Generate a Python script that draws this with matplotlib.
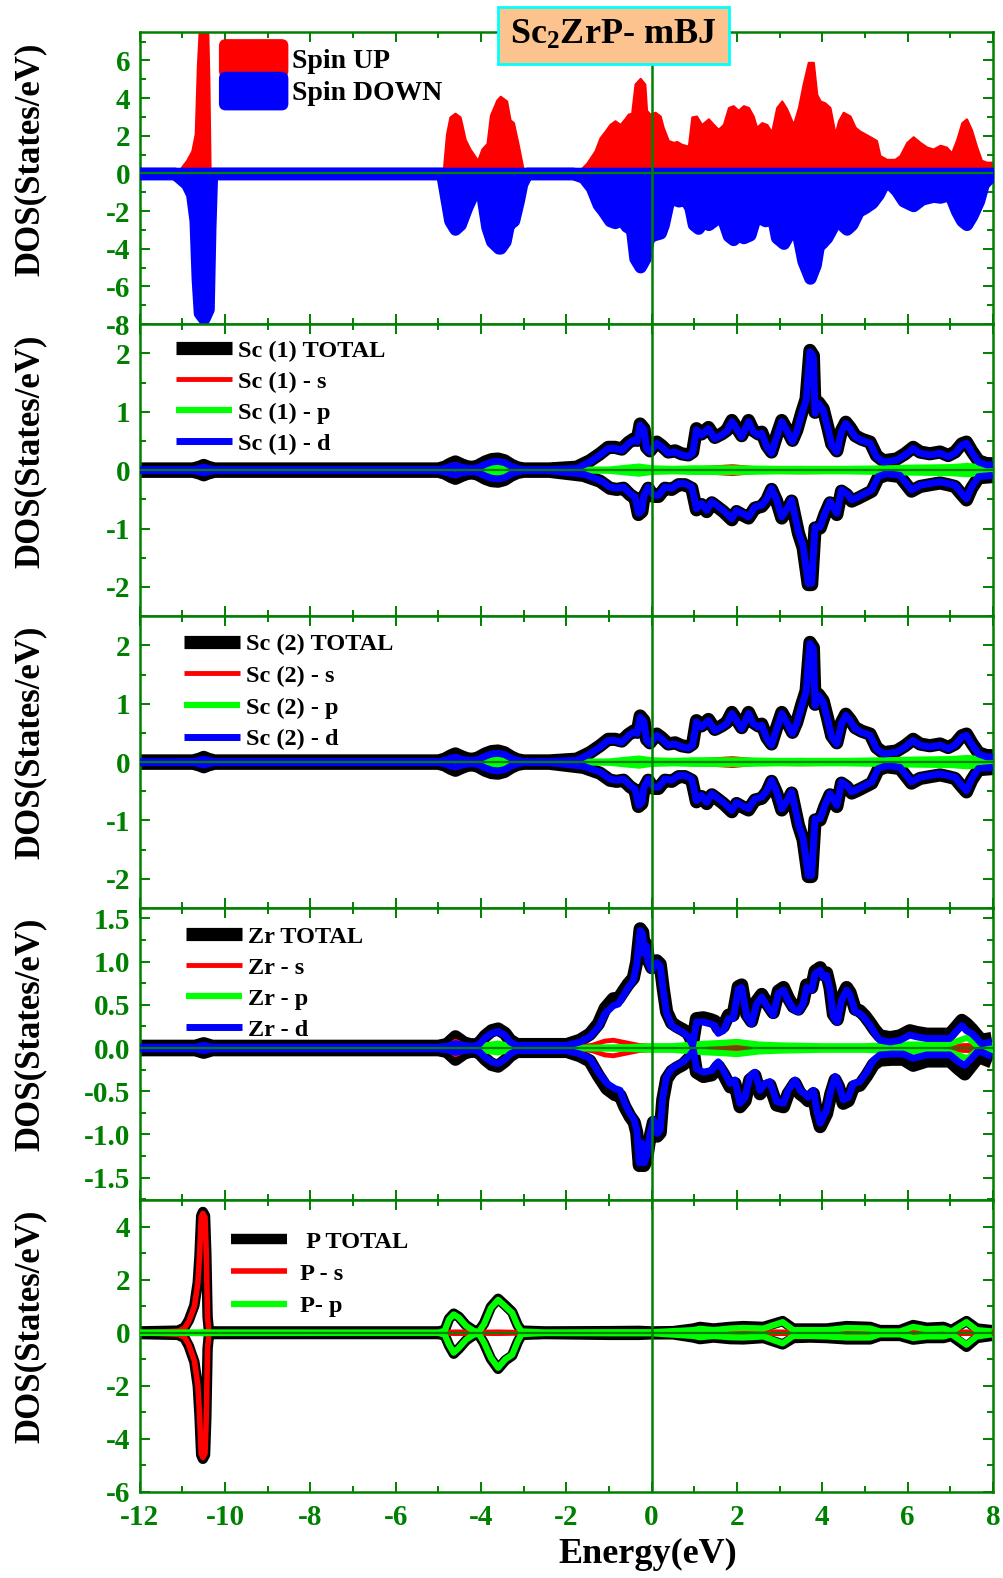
import matplotlib
matplotlib.use("Agg")
import matplotlib.pyplot as plt
from matplotlib.patches import Patch, FancyBboxPatch
from matplotlib.legend_handler import HandlerPatch
from matplotlib.ticker import MultipleLocator

plt.rcParams.update({
    'font.family': ['Liberation Serif', 'DejaVu Serif'],
    'font.weight': 'bold',
    'mathtext.fontset': 'custom',
    'mathtext.rm': 'Liberation Serif:bold',
    'mathtext.it': 'Liberation Serif:bold',
    'mathtext.bf': 'Liberation Serif:bold',
    'axes.unicode_minus': False,
})

# ---------------- total DOS (spin up / spin down) ----------------
tot_up_e = [-12.0, -11.2, -11.1, -10.9, -10.78, -10.70, -10.65, -10.62, -10.58, -10.42, -10.38, -10.35,
            -10.30, -4.95, -4.88, -4.81, -4.73, -4.61, -4.49, -4.37, -4.26, -4.14, -4.08, -3.98, -3.86,
            -3.78, -3.63, -3.55, -3.40, -3.32, -3.24, -3.13, -3.02, -2.98, -1.76, -1.52, -1.33, -1.21,
            -1.09, -0.98, -0.86, -0.74, -0.63, -0.55, -0.47, -0.39, -0.27, -0.16, -0.12, -0.04, 0.08,
            0.20, 0.27, 0.39, 0.51, 0.59, 0.70, 0.86, 0.94, 1.05, 1.17, 1.33, 1.45, 1.56, 1.68, 1.80,
            1.91, 2.03, 2.15, 2.27, 2.38, 2.46, 2.58, 2.70, 2.81, 2.93, 3.05, 3.16, 3.32, 3.44, 3.55,
            3.67, 3.79, 3.87, 3.95, 4.06, 4.18, 4.30, 4.38, 4.49, 4.65, 4.77, 4.88, 5.00, 5.16, 5.27,
            5.35, 5.51, 5.70, 5.82, 5.98, 6.13, 6.29, 6.45, 6.60, 6.76, 6.91, 7.03, 7.15, 7.27, 7.38,
            7.50, 7.62, 7.73, 7.85, 8.00]
tot_up = [0.0, 0.0, 0.1, 0.7, 1.2, 2.1, 5.7, 7.0, 9.0, 9.0, 5.0, 0.0,
          0.0, 0.0, 0.3, 2.1, 3.0, 3.2, 3.0, 1.8, 1.3, 0.9, 0.7, 1.3, 1.6,
          3.1, 3.9, 4.1, 3.85, 2.85, 2.7, 1.55, 0.3, 0.0, 0.0, 0.55, 1.2, 1.9,
          2.25, 2.6, 2.8, 2.6, 2.9, 3.15, 3.2, 4.75, 5.05, 4.75, 3.35, 3.15, 3.25,
          3.05, 2.45, 1.75, 1.65, 1.7, 1.55, 1.45, 3.0, 3.05, 2.6, 2.9, 2.6, 2.35, 2.6, 3.5,
          3.6, 3.35, 3.6, 3.5, 3.05, 2.45, 2.7, 2.6, 2.2, 3.5, 3.85, 3.45, 2.6, 3.5, 4.75,
          5.9, 5.9, 4.2, 3.85, 3.75, 3.5, 2.1, 2.8, 3.25, 3.05, 2.45, 2.25, 2.1, 1.9, 1.75,
          0.95, 0.75, 0.75, 0.95, 1.65, 1.95, 1.65, 1.4, 1.3, 1.5, 1.4, 1.1, 1.8, 2.7, 2.9,
          2.3, 1.4, 0.7, 0.6, 0.6]

tot_dn_e = [-12.0, -11.18, -10.90, -10.78, -10.70, -10.65, -10.60, -10.50, -10.40, -10.36, -10.32,
            -4.92, -4.81, -4.73, -4.61, -4.49, -4.34, -4.18, -4.08, -3.98, -3.86, -3.75, -3.59, -3.55,
            -3.44, -3.36, -3.24, -3.13, -3.05, -2.93, -1.84, -1.60, -1.41, -1.25, -1.13, -0.98, -0.86,
            -0.74, -0.59, -0.47, -0.39, -0.27, -0.16, -0.08, 0.04, 0.20, 0.27, 0.39, 0.51, 0.63, 0.78,
            0.90, 0.98, 1.09, 1.21, 1.33, 1.45, 1.56, 1.68, 1.80, 1.91, 2.03, 2.15, 2.30, 2.42, 2.54,
            2.66, 2.81, 2.93, 3.09, 3.20, 3.32, 3.44, 3.55, 3.71, 3.83, 3.91, 3.98, 4.10, 4.22, 4.34,
            4.45, 4.57, 4.69, 4.84, 5.00, 5.16, 5.31, 5.43, 5.59, 5.74, 5.90, 6.13, 6.33, 6.60, 6.76,
            6.99, 7.15, 7.27, 7.38, 7.50, 7.66, 7.77, 8.00]
tot_dn = [0.0, 0.0, -0.55, -1.1, -2.5, -5.6, -7.4, -7.7, -7.2, -2.9, 0.0,
          0.0, -1.45, -2.5, -2.95, -2.7, -1.8, -1.0, -0.65, -1.1, -2.85, -3.6, -3.95, -3.95,
          -3.6, -2.7, -2.5, -1.45, -0.55, 0.0, 0.0, -0.2, -0.75, -1.65, -2.0, -2.5, -2.6,
          -2.35, -2.8, -2.95, -4.5, -4.95, -4.5, -3.4, -3.25, -3.15, -2.7, -1.45, -1.35, -1.45, -1.35,
          -1.8, -2.7, -2.9, -2.5, -2.7, -2.5, -2.25, -2.5, -3.3, -3.5, -3.25, -3.4, -3.25, -2.35, -2.35,
          -2.5, -2.0, -3.4, -3.7, -3.25, -2.7, -3.4, -4.65, -5.55, -4.85, -3.75, -3.7, -3.4, -2.9, -2.15,
          -2.7, -2.95, -2.7, -2.0, -1.8, -1.55, -1.1, -0.55, -0.55, -0.9, -1.45, -1.7, -1.35, -1.2, -1.25,
          -1.1, -2.0, -2.5, -2.7, -2.25, -1.45, -0.55, 0.0]

# ---------------- Sc partial DOS (both Sc sites) ----------------
sc_up_e = [-12.0, -10.75, -10.6, -10.5, -10.4, -10.25, -5.0, -4.85, -4.7, -4.6, -4.45, -4.3, -4.15,
           -4.05, -3.9, -3.75, -3.6, -3.45, -3.3, -3.15, -3.0, -2.4, -1.76, -1.45, -1.21, -1.02, -0.86,
           -0.70, -0.55, -0.43, -0.34, -0.27, -0.18, -0.12, -0.04, 0.12, 0.23, 0.39, 0.55, 0.70, 0.86,
           0.96, 1.05, 1.17, 1.33, 1.48, 1.64, 1.76, 1.88, 1.99, 2.11, 2.27, 2.38, 2.50, 2.58, 2.70,
           2.81, 2.93, 3.05, 3.16, 3.30, 3.40, 3.52, 3.62, 3.71, 3.79, 3.83, 3.91, 4.02, 4.12, 4.22,
           4.34, 4.45, 4.55, 4.65, 4.77, 4.92, 5.12, 5.27, 5.43, 5.74, 5.94, 6.13, 6.29, 6.52, 6.76,
           6.95, 7.11, 7.27, 7.38, 7.50, 7.66, 7.85, 8.0]
sc_up_total = [0.02, 0.02, 0.05, 0.08, 0.05, 0.02, 0.02, 0.05, 0.11, 0.14, 0.09, 0.05, 0.05,
               0.08, 0.14, 0.18, 0.19, 0.16, 0.09, 0.04, 0.02, 0.02, 0.05, 0.16, 0.28, 0.39, 0.39,
               0.36, 0.47, 0.53, 0.51, 0.79, 0.71, 0.39, 0.33, 0.48, 0.42, 0.31, 0.33, 0.28, 0.26,
               0.31, 0.71, 0.62, 0.73, 0.56, 0.62, 0.68, 0.85, 0.73, 0.59, 0.85, 0.68, 0.62, 0.65, 0.42,
               0.31, 0.59, 0.85, 0.71, 0.51, 0.68, 0.99, 1.22, 2.05, 1.96, 0.99, 1.16, 1.05, 0.76, 0.45,
               0.33, 0.68, 0.82, 0.73, 0.59, 0.53, 0.48, 0.25, 0.16, 0.19, 0.28, 0.39, 0.31, 0.28, 0.31,
               0.25, 0.31, 0.45, 0.48, 0.33, 0.16, 0.11, 0.11]
sc_up_d = [0.01, 0.01, 0.03, 0.05, 0.03, 0.01, 0.01, 0.03, 0.07, 0.08, 0.05, 0.03, 0.03,
           0.05, 0.10, 0.14, 0.15, 0.13, 0.07, 0.03, 0.01, 0.01, 0.03, 0.14, 0.26, 0.37, 0.37,
           0.34, 0.45, 0.51, 0.49, 0.77, 0.69, 0.37, 0.31, 0.46, 0.40, 0.29, 0.31, 0.26, 0.24,
           0.29, 0.69, 0.60, 0.71, 0.54, 0.60, 0.66, 0.83, 0.71, 0.57, 0.83, 0.66, 0.60, 0.63, 0.40,
           0.29, 0.57, 0.83, 0.69, 0.49, 0.66, 0.97, 1.20, 2.03, 1.94, 0.97, 1.14, 1.03, 0.74, 0.43,
           0.31, 0.66, 0.80, 0.71, 0.57, 0.51, 0.46, 0.23, 0.14, 0.17, 0.26, 0.37, 0.29, 0.26, 0.29,
           0.23, 0.29, 0.43, 0.46, 0.31, 0.14, 0.09, 0.09]

sc_dn_e = [-12.0, -10.75, -10.6, -10.5, -10.4, -10.25, -5.0, -4.85, -4.7, -4.6, -4.45, -4.3, -4.15,
           -4.05, -3.9, -3.75, -3.6, -3.45, -3.3, -3.15, -3.0, -2.4, -1.60, -1.21, -0.98, -0.82, -0.66,
           -0.51, -0.39, -0.31, -0.23, -0.18, -0.08, 0.04, 0.16, 0.31, 0.47, 0.63, 0.78, 0.94, 1.05,
           1.17, 1.29, 1.41, 1.52, 1.68, 1.88, 1.99, 2.11, 2.27, 2.42, 2.58, 2.70, 2.81, 2.93, 3.05,
           3.20, 3.28, 3.44, 3.55, 3.67, 3.75, 3.83, 3.95, 4.06, 4.18, 4.34, 4.45, 4.57, 4.69, 4.84,
           5.00, 5.16, 5.31, 5.51, 5.82, 6.09, 6.29, 6.52, 6.76, 6.95, 7.11, 7.27, 7.38, 7.50, 7.66, 8.0]
sc_dn_total = [-0.02, -0.02, -0.05, -0.08, -0.05, -0.02, -0.02, -0.05, -0.11, -0.14, -0.09, -0.05, -0.05,
               -0.08, -0.14, -0.18, -0.19, -0.16, -0.09, -0.04, -0.02, -0.02, -0.09, -0.19, -0.31, -0.33, -0.31,
               -0.42, -0.48, -0.76, -0.71, -0.45, -0.31, -0.45, -0.45, -0.31, -0.33, -0.25, -0.25, -0.31, -0.68,
               -0.59, -0.71, -0.56, -0.62, -0.71, -0.85, -0.71, -0.76, -0.82, -0.65, -0.62, -0.51, -0.33, -0.53, -0.82,
               -0.65, -0.53, -1.08, -1.33, -1.96, -1.96, -0.99, -0.99, -0.76, -0.56, -0.76, -0.36, -0.42, -0.53, -0.48,
               -0.42, -0.36, -0.13, -0.08, -0.11, -0.36, -0.28, -0.25, -0.22, -0.25, -0.28, -0.42, -0.51, -0.31, -0.13, -0.11]
sc_dn_d = [-0.01, -0.01, -0.03, -0.05, -0.03, -0.01, -0.01, -0.03, -0.07, -0.08, -0.05, -0.03, -0.03,
           -0.05, -0.10, -0.14, -0.15, -0.13, -0.07, -0.03, -0.01, -0.01, -0.07, -0.17, -0.29, -0.31, -0.29,
           -0.40, -0.46, -0.74, -0.69, -0.43, -0.29, -0.43, -0.43, -0.29, -0.31, -0.23, -0.23, -0.29, -0.66,
           -0.57, -0.69, -0.54, -0.60, -0.69, -0.83, -0.69, -0.74, -0.80, -0.63, -0.60, -0.49, -0.31, -0.51, -0.80,
           -0.63, -0.51, -1.06, -1.31, -1.94, -1.94, -0.97, -0.97, -0.74, -0.54, -0.74, -0.34, -0.40, -0.51, -0.46,
           -0.40, -0.34, -0.11, -0.06, -0.09, -0.34, -0.26, -0.23, -0.20, -0.23, -0.26, -0.40, -0.49, -0.29, -0.11, -0.09]

sc_s_e = [-12.0, -4.8, -4.6, -4.4, -4.1, -3.8, -3.6, -3.4, -3.0, -1.0, 0.0, 1.0, 1.9, 2.5, 3.5, 4.5, 6.0, 7.3, 8.0]
sc_s_up = [0.0, 0.02, 0.10, 0.04, 0.01, 0.02, 0.03, 0.02, 0.0, 0.01, 0.02, 0.02, 0.06, 0.02, 0.03, 0.02, 0.01, 0.02, 0.01]
sc_s_dn = [0.0, -0.02, -0.10, -0.04, -0.01, -0.02, -0.03, -0.02, 0.0, -0.01, -0.02, -0.02, -0.06, -0.02, -0.03, -0.02, -0.01, -0.02, -0.01]

sc_p_e = [-12.0, -4.8, -4.6, -4.2, -3.8, -3.6, -3.4, -3.0, -1.0, -0.3, 0.0, 0.5, 1.0, 2.0, 3.0, 4.5, 5.5, 6.0, 7.0, 7.4, 8.0]
sc_p_up = [0.0, 0.01, 0.03, 0.01, 0.04, 0.07, 0.04, 0.0, 0.01, 0.06, 0.03, 0.02, 0.03, 0.03, 0.02, 0.02, 0.03, 0.04, 0.05, 0.07, 0.03]
sc_p_dn = [0.0, -0.01, -0.03, -0.01, -0.04, -0.07, -0.04, 0.0, -0.01, -0.06, -0.03, -0.02, -0.03, -0.03, -0.02, -0.02, -0.03, -0.04, -0.05, -0.07, -0.03]

# ---------------- Zr partial DOS ----------------
zr_up_e = [-12.0, -10.7, -10.5, -10.3, -5.0, -4.8, -4.6, -4.4, -4.2, -4.05, -3.9, -3.75, -3.6, -3.44,
           -3.32, -3.16, -1.99, -1.68, -1.45, -1.25, -1.09, -0.90, -0.78, -0.66, -0.55, -0.43, -0.35,
           -0.27, -0.21, -0.17, -0.12, -0.08, 0.0, 0.12, 0.20, 0.27, 0.35, 0.47, 0.59, 0.74, 0.86, 0.96,
           1.05, 1.21, 1.37, 1.48, 1.56, 1.68, 1.80, 1.91, 2.03, 2.11, 2.23, 2.34, 2.46, 2.58, 2.70, 2.85,
           2.97, 3.09, 3.20, 3.32, 3.44, 3.55, 3.63, 3.75, 3.83, 3.95, 4.02, 4.10, 4.18, 4.26, 4.35, 4.45,
           4.57, 4.65, 4.77, 4.88, 5.00, 5.12, 5.23, 5.35, 5.59, 5.82, 6.05, 6.21, 6.45, 6.76, 6.99, 7.15,
           7.27, 7.38, 7.50, 7.62, 7.73, 7.97]
zr_up_total = [0.02, 0.02, 0.05, 0.02, 0.02, 0.04, 0.13, 0.06, 0.03, 0.05, 0.14, 0.20, 0.22, 0.17,
               0.09, 0.04, 0.04, 0.09, 0.16, 0.28, 0.46, 0.57, 0.57, 0.66, 0.74, 0.81, 1.00,
               1.38, 1.34, 1.12, 1.20, 1.02, 0.93, 1.01, 0.97, 0.69, 0.42, 0.29, 0.25, 0.21, 0.17, 0.06,
               0.34, 0.35, 0.33, 0.31, 0.23, 0.25, 0.38, 0.38, 0.71, 0.73, 0.39, 0.31, 0.54, 0.62, 0.52, 0.41,
               0.66, 0.70, 0.58, 0.48, 0.45, 0.54, 0.73, 0.70, 0.89, 0.93, 0.85, 0.87, 0.70, 0.39, 0.33, 0.58,
               0.70, 0.64, 0.45, 0.43, 0.37, 0.29, 0.21, 0.14, 0.12, 0.14, 0.20, 0.18, 0.16, 0.16, 0.16, 0.25,
               0.32, 0.28, 0.22, 0.15, 0.09, 0.11]
zr_up_d = [0.01, 0.01, 0.03, 0.01, 0.01, 0.02, 0.05, 0.03, 0.02, 0.04, 0.12, 0.17, 0.19, 0.15,
           0.07, 0.03, 0.03, 0.07, 0.13, 0.24, 0.40, 0.49, 0.51, 0.61, 0.70, 0.78, 0.97,
           1.36, 1.32, 1.09, 1.18, 0.99, 0.90, 0.99, 0.95, 0.67, 0.40, 0.26, 0.22, 0.18, 0.13, 0.03,
           0.30, 0.30, 0.28, 0.26, 0.17, 0.20, 0.34, 0.34, 0.68, 0.70, 0.36, 0.28, 0.51, 0.59, 0.49, 0.38,
           0.63, 0.67, 0.55, 0.45, 0.42, 0.51, 0.70, 0.67, 0.86, 0.90, 0.82, 0.84, 0.67, 0.36, 0.30, 0.55,
           0.67, 0.61, 0.42, 0.40, 0.34, 0.26, 0.17, 0.09, 0.07, 0.09, 0.15, 0.13, 0.11, 0.11, 0.11, 0.20,
           0.26, 0.20, 0.17, 0.11, 0.05, 0.07]

zr_dn_e = [-12.0, -10.7, -10.5, -10.3, -5.0, -4.8, -4.6, -4.4, -4.2, -4.05, -3.9, -3.75, -3.6, -3.44,
           -3.32, -3.16, -1.99, -1.68, -1.45, -1.25, -1.05, -0.86, -0.74, -0.63, -0.51, -0.41, -0.35,
           -0.29, -0.23, -0.18, -0.12, -0.05, 0.04, 0.13, 0.20, 0.26, 0.35, 0.47, 0.59, 0.74, 0.90, 0.98,
           1.05, 1.21, 1.41, 1.56, 1.68, 1.84, 1.95, 2.07, 2.19, 2.30, 2.42, 2.54, 2.66, 2.77, 2.93, 3.09,
           3.20, 3.36, 3.48, 3.59, 3.67, 3.79, 3.87, 3.95, 4.02, 4.10, 4.20, 4.30, 4.38, 4.49, 4.61, 4.73,
           4.88, 5.04, 5.20, 5.35, 5.62, 5.90, 6.13, 6.45, 6.76, 6.99, 7.19, 7.34, 7.50, 7.66, 7.97]
zr_dn_total = [-0.02, -0.02, -0.05, -0.02, -0.02, -0.04, -0.13, -0.06, -0.03, -0.05, -0.13, -0.19, -0.21, -0.15,
               -0.09, -0.04, -0.04, -0.09, -0.15, -0.32, -0.47, -0.54, -0.55, -0.68, -0.79, -0.86, -0.98,
               -1.36, -1.13, -1.36, -1.29, -1.06, -0.86, -1.02, -0.98, -0.60, -0.36, -0.27, -0.23, -0.19, -0.11, -0.06,
               -0.28, -0.33, -0.31, -0.21, -0.30, -0.45, -0.41, -0.68, -0.61, -0.37, -0.32, -0.53, -0.45, -0.43, -0.66, -0.68,
               -0.53, -0.41, -0.53, -0.57, -0.61, -0.53, -0.76, -0.91, -0.84, -0.76, -0.53, -0.37, -0.45, -0.64, -0.61, -0.45,
               -0.43, -0.32, -0.19, -0.14, -0.13, -0.13, -0.20, -0.15, -0.15, -0.15, -0.24, -0.30, -0.20, -0.10, -0.16]
zr_dn_d = [-0.01, -0.01, -0.03, -0.01, -0.01, -0.02, -0.05, -0.03, -0.02, -0.04, -0.11, -0.16, -0.18, -0.13,
           -0.07, -0.03, -0.03, -0.07, -0.12, -0.28, -0.41, -0.47, -0.49, -0.64, -0.76, -0.83, -0.95,
           -1.33, -1.10, -1.33, -1.26, -1.03, -0.83, -0.99, -0.95, -0.57, -0.33, -0.24, -0.20, -0.16, -0.08, -0.03,
           -0.24, -0.28, -0.26, -0.16, -0.26, -0.41, -0.37, -0.64, -0.57, -0.33, -0.28, -0.49, -0.41, -0.39, -0.62, -0.64,
           -0.49, -0.37, -0.49, -0.53, -0.57, -0.49, -0.72, -0.87, -0.80, -0.72, -0.49, -0.33, -0.41, -0.60, -0.57, -0.41,
           -0.39, -0.28, -0.14, -0.08, -0.07, -0.07, -0.12, -0.08, -0.08, -0.08, -0.16, -0.20, -0.12, -0.03, -0.10]

zr_s_e = [-12.0, -4.8, -4.6, -4.4, -4.0, -3.6, -3.2, -2.0, -1.4, -1.1, -0.9, -0.7, -0.5, -0.3, 0.0,
          0.5, 1.0, 2.0, 3.0, 4.0, 5.0, 6.0, 7.0, 7.4, 8.0]
zr_s_up = [0.0, 0.01, 0.08, 0.03, 0.01, 0.02, 0.01, 0.0, 0.03, 0.08, 0.09, 0.07, 0.05, 0.03, 0.02,
           0.02, 0.01, 0.01, 0.01, 0.01, 0.01, 0.02, 0.02, 0.03, 0.01]
zr_s_dn = [0.0, -0.01, -0.08, -0.03, -0.01, -0.02, -0.01, 0.0, -0.03, -0.08, -0.09, -0.07, -0.05, -0.03, -0.02,
           -0.02, -0.01, -0.01, -0.01, -0.01, -0.01, -0.02, -0.02, -0.03, -0.01]

zr_p_e = [-12.0, -4.8, -4.6, -4.3, -3.9, -3.6, -3.3, -2.0, -0.5, 0.0, 0.5, 1.0, 1.3, 1.7, 2.0,
          2.5, 3.0, 4.0, 5.0, 6.0, 6.5, 7.0, 7.4, 7.6, 8.0]
zr_p_up = [0.0, 0.01, 0.03, 0.01, 0.03, 0.05, 0.02, 0.0, 0.01, 0.02, 0.02, 0.04, 0.05, 0.06, 0.07,
           0.04, 0.03, 0.02, 0.02, 0.04, 0.04, 0.05, 0.12, 0.04, 0.03]
zr_p_dn = [0.0, -0.01, -0.03, -0.01, -0.03, -0.05, -0.02, 0.0, -0.01, -0.02, -0.02, -0.04, -0.05, -0.06, -0.07,
           -0.04, -0.03, -0.02, -0.02, -0.04, -0.04, -0.05, -0.12, -0.04, -0.03]

# ---------------- P partial DOS ----------------
p_tot_e = [-12.0, -11.1, -10.95, -10.85, -10.72, -10.64, -10.6, -10.56, -10.52, -10.47, -10.44, -10.41,
           -10.38, -10.33, -5.0, -4.85, -4.75, -4.64, -4.52, -4.35, -4.18, -4.06, -3.93, -3.77, -3.6,
           -3.43, -3.27, -3.14, -3.05, -2.5, -1.0, -0.3, 0.0, 0.5, 0.98, 1.13, 1.45, 1.84, 2.15, 2.62,
           3.07, 3.32, 3.71, 4.10, 4.57, 5.12, 5.35, 5.82, 6.13, 6.45, 6.84, 7.03, 7.38, 7.62, 7.97]
p_tot_up = [0.05, 0.08, 0.2, 0.47, 1.03, 1.9, 2.9, 4.4, 4.55, 4.4, 3.0, 0.6,
            0.1, 0.05, 0.05, 0.1, 0.53, 0.72, 0.6, 0.28, 0.1, 0.05, 0.35, 0.97, 1.28,
            1.03, 0.78, 0.28, 0.08, 0.05, 0.06, 0.07, 0.05, 0.06, 0.16, 0.22, 0.16, 0.22, 0.25, 0.22,
            0.44, 0.16, 0.16, 0.16, 0.25, 0.22, 0.10, 0.10, 0.29, 0.19, 0.22, 0.10, 0.44, 0.16, 0.10]
p_tot_dn = [-0.05, -0.08, -0.2, -0.5, -1.1, -2.0, -3.1, -4.6, -4.75, -4.6, -3.2, -0.6,
            -0.1, -0.05, -0.05, -0.1, -0.48, -0.79, -0.6, -0.29, -0.1, -0.05, -0.4, -0.98, -1.36,
            -1.04, -0.86, -0.35, -0.08, -0.05, -0.08, -0.08, -0.06, -0.06, -0.18, -0.24, -0.18, -0.24, -0.25, -0.2,
            -0.44, -0.2, -0.18, -0.2, -0.25, -0.25, -0.12, -0.12, -0.26, -0.2, -0.2, -0.12, -0.53, -0.2, -0.12]

p_s_e = [-12.0, -11.1, -10.95, -10.85, -10.72, -10.64, -10.6, -10.56, -10.52, -10.47, -10.44, -10.41,
         -10.38, -10.33, -5.0, -4.6, -4.1, -3.6, -3.0, 0.0, 1.5, 2.0, 2.5, 3.0, 5.0, 7.4, 8.0]
p_s_up = [0.0, 0.06, 0.17, 0.43, 0.98, 1.85, 2.85, 4.35, 4.5, 4.35, 2.95, 0.55,
          0.06, 0.0, 0.0, 0.02, 0.01, 0.02, 0.0, 0.01, 0.03, 0.04, 0.03, 0.02, 0.01, 0.02, 0.01]
p_s_dn = [0.0, -0.06, -0.17, -0.46, -1.05, -1.95, -3.05, -4.55, -4.7, -4.55, -3.15, -0.55,
          -0.06, 0.0, 0.0, -0.02, -0.01, -0.02, 0.0, -0.01, -0.03, -0.04, -0.03, -0.02, -0.01, -0.02, -0.01]

p_p_e = [-12.0, -10.6, -10.5, -10.4, -5.0, -4.85, -4.75, -4.64, -4.52, -4.35, -4.18, -4.06, -3.93,
         -3.77, -3.6, -3.43, -3.27, -3.14, -3.05, -2.5, -1.0, 0.0, 0.98, 1.13, 1.45, 1.84, 2.15, 2.62,
         3.07, 3.32, 3.71, 4.10, 4.57, 5.12, 5.35, 5.82, 6.13, 6.45, 6.84, 7.03, 7.38, 7.62, 7.97]
p_p_up = [0.0, 0.01, 0.02, 0.01, 0.0, 0.08, 0.5, 0.69, 0.57, 0.26, 0.08, 0.02, 0.32,
          0.93, 1.24, 0.99, 0.75, 0.26, 0.05, 0.01, 0.02, 0.02, 0.10, 0.15, 0.10, 0.16, 0.18, 0.16,
          0.40, 0.10, 0.10, 0.10, 0.18, 0.16, 0.05, 0.05, 0.22, 0.13, 0.16, 0.05, 0.40, 0.10, 0.05]
p_p_dn = [0.0, -0.01, -0.02, -0.01, 0.0, -0.08, -0.45, -0.75, -0.57, -0.26, -0.08, -0.02, -0.37,
          -0.94, -1.32, -1.0, -0.83, -0.32, -0.05, -0.01, -0.02, -0.02, -0.12, -0.17, -0.12, -0.17, -0.18, -0.14,
          -0.40, -0.12, -0.12, -0.14, -0.18, -0.18, -0.06, -0.06, -0.20, -0.14, -0.14, -0.06, -0.45, -0.14, -0.06]

# ---------------- figure ----------------
AX_GREEN = '#008000'
LIME = '#00FF00'

fig = plt.figure(figsize=(10.04, 15.78), dpi=100)
gs = fig.add_gridspec(5, 1, left=0.1392, right=0.989, top=0.9796, bottom=0.0545, hspace=0)
axs = [fig.add_subplot(gs[i, 0]) for i in range(5)]


def style_axes(ax, ylim, major, minor, show_x=False):
    ax.set_xlim(-12, 8)
    ax.set_ylim(*ylim)
    ax.xaxis.set_major_locator(MultipleLocator(2))
    ax.xaxis.set_minor_locator(MultipleLocator(1))
    ax.yaxis.set_major_locator(MultipleLocator(major))
    ax.yaxis.set_minor_locator(MultipleLocator(minor))
    ax.tick_params(which='both', direction='in', top=True, right=True,
                   color=AX_GREEN, width=1.4)
    ax.tick_params(which='major', length=7)
    ax.tick_params(which='minor', length=4)
    ax.tick_params(axis='y', labelcolor=AX_GREEN, labelsize=21, pad=7)
    ax.tick_params(axis='x', labelcolor=AX_GREEN, labelsize=21, pad=9,
                   labelbottom=show_x)
    for sp in ax.spines.values():
        sp.set_color(AX_GREEN)
        sp.set_linewidth(1.8)
    ax.axhline(0, color=AX_GREEN, lw=1.6, zorder=8)
    ax.axvline(0, color=AX_GREEN, lw=1.8, zorder=8)


def line(ax, x, y, color, lw, z, label=None):
    return ax.plot(x, y, color=color, lw=lw, zorder=z, label=label,
                   solid_joinstyle='round', solid_capstyle='butt')[0]


# panel 1: total DOS
ax = axs[0]
ax.fill_between(tot_up_e, tot_up, 0, facecolor='#FF0000', edgecolor='#FF0000', lw=1.5,
                joinstyle='round', zorder=2)
ax.fill_between(tot_dn_e, tot_dn, 0, facecolor='#0000FF', edgecolor='#0000FF', lw=9,
                joinstyle='round', zorder=3)
style_axes(ax, (-8, 7.5), 2, 1)


def rounded_patch(legend, orig_handle, xdescent, ydescent, width, height, fontsize):
    return FancyBboxPatch((-xdescent, -ydescent - 3), width, height + 6,
                          boxstyle='round,pad=0,rounding_size=5')


spin_handles = [Patch(facecolor='#FF0000', edgecolor='none', label='Spin UP'),
                Patch(facecolor='#0000FF', edgecolor='none', label='Spin DOWN')]
ax.legend(handles=spin_handles, handler_map={Patch: HandlerPatch(patch_func=rounded_patch)},
          loc='upper left', bbox_to_anchor=(0.0928, 0.962), frameon=False, fontsize=20,
          handlelength=2.5, handleheight=1.3, labelspacing=0.08, handletextpad=0.12,
          borderpad=0, borderaxespad=0)


def pdos_panel(ax, name, up_e, up_tot, up_d, dn_e, dn_tot, dn_d,
               s_e, s_up, s_dn, p_e, p_up, p_dn, anchor, spacing):
    h_tot = line(ax, up_e, up_tot, 'black', 9.5, 2, f'{name} TOTAL')
    line(ax, dn_e, dn_tot, 'black', 9.5, 2)
    h_s = line(ax, s_e, s_up, '#FF0000', 3.5, 3, f'{name} - s')
    line(ax, s_e, s_dn, '#FF0000', 3.5, 3)
    h_p = line(ax, p_e, p_up, LIME, 4.5, 4, f'{name} - p')
    line(ax, p_e, p_dn, LIME, 4.5, 4)
    h_d = line(ax, up_e, up_d, '#0000FF', 5, 5, f'{name} - d')
    line(ax, dn_e, dn_d, '#0000FF', 5, 5)
    ax.legend(handles=[h_tot, h_s, h_p, h_d], loc='upper left', bbox_to_anchor=anchor,
              frameon=False, fontsize=17.5, handlelength=2.3, handletextpad=0.25,
              labelspacing=spacing, borderpad=0, borderaxespad=0)


pdos_panel(axs[1], 'Sc (1)', sc_up_e, sc_up_total, sc_up_d, sc_dn_e, sc_dn_total, sc_dn_d,
           sc_s_e, sc_s_up, sc_s_dn, sc_p_e, sc_p_up, sc_p_dn, (0.0424, 0.947), 0.37)
style_axes(axs[1], (-2.5, 2.5), 1, 0.5)

pdos_panel(axs[2], 'Sc (2)', sc_up_e, sc_up_total, sc_up_d, sc_dn_e, sc_dn_total, sc_dn_d,
           sc_s_e, sc_s_up, sc_s_dn, sc_p_e, sc_p_up, sc_p_dn, (0.0518, 0.942), 0.40)
style_axes(axs[2], (-2.5, 2.5), 1, 0.5)

pdos_panel(axs[3], 'Zr', zr_up_e, zr_up_total, zr_up_d, zr_dn_e, zr_dn_total, zr_dn_d,
           zr_s_e, zr_s_up, zr_s_dn, zr_p_e, zr_p_up, zr_p_dn, (0.0544, 0.939), 0.37)
style_axes(axs[3], (-1.76, 1.62), 0.5, 0.25)

# panel 5: P
ax = axs[4]
h_tot = line(ax, p_tot_e, p_tot_up, 'black', 7.5, 2, ' P TOTAL')
line(ax, p_tot_e, p_tot_dn, 'black', 7.5, 2)
h_s = line(ax, p_s_e, p_s_up, '#FF0000', 4, 3, 'P - s')
line(ax, p_s_e, p_s_dn, '#FF0000', 4, 3)
h_p = line(ax, p_p_e, p_p_up, LIME, 4.5, 4, 'P- p')
line(ax, p_p_e, p_p_dn, LIME, 4.5, 4)
ax.legend(handles=[h_tot, h_s, h_p], loc='upper left', bbox_to_anchor=(0.107, 0.895),
          frameon=False, fontsize=17.5, handlelength=2.3, handletextpad=0.55,
          labelspacing=0.42, borderpad=0, borderaxespad=0)
style_axes(ax, (-6, 5), 2, 1, show_x=True)

# axis titles
panel_centres = [178, 470, 761, 1053, 1345]
for yc in panel_centres:
    fig.text(30 / 1004, 1 - (yc - 19) / 1578, 'DOS(States/eV)', rotation=90,
             ha='center', va='center', fontsize=25, fontweight='bold', color='black')
fig.text(648 / 1004, 1 - 1554 / 1578, 'Energy(eV)', ha='center', va='center',
         fontsize=26, fontweight='bold', color='black')

fig.text(613.5 / 1004, 1 - 35.5 / 1578, r'Sc$_{2}$ZrP- mBJ', ha='center', va='center',
         fontsize=26, fontweight='bold', color='black', zorder=10,
         bbox=dict(boxstyle='square,pad=0.33', facecolor='#FDC38F', edgecolor='#00FFFF', lw=2))

fig.savefig('out.png', dpi=100)
